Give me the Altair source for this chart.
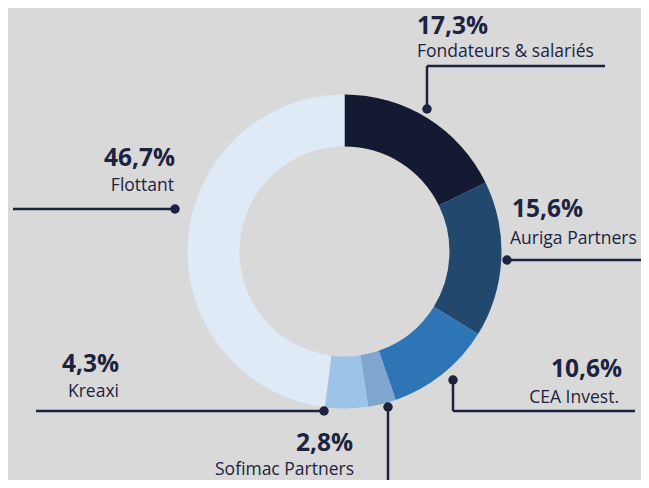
import altair as alt
import pandas as pd

# ---- data ----
holders = ["Fondateurs & salariés", "Auriga Partners", "CEA Invest.", "Sofimac Partners", "Kreaxi", "Flottant"]
shares = [17.3, 15.6, 10.6, 2.8, 4.3, 46.7]
pct_labels = ["17,3%", "15,6%", "10,6%", "2,8%", "4,3%", "46,7%"]
colors = ["#151a33", "#22486e", "#2e75b5", "#7fa6d0", "#9dc3e6", "#deeaf6"]

# ---- layout (page pixel coordinates) ----
dot_x = [427, 507, 453, 388, 324, 175]
dot_y = [109, 260, 380, 407, 411, 209]
pct_x = [417, 512, 622, 353, 119, 175]
pct_y = [34, 217, 377, 451, 372, 166]
name_x = [417, 510, 619, 354, 119, 174]
name_y = [57, 244, 403, 475, 397, 191]
align = ["left", "left", "right", "right", "right", "right"]
# leader segments: (x, y, x2, y2)
segments = [
    (427, 109, 427, 66), (427, 66, 605, 66),
    (507, 260, 649, 260),
    (453, 380, 453, 411), (453, 411, 635, 411),
    (388, 407, 388, 488),
    (324, 411, 36, 411),
    (175, 209, 13, 209),
]

INK = "#1c2340"
FONT = "Open Sans"
W, H = 633, 472
CX, CY = 344.5 - 8, 251.5 - 8

df = pd.DataFrame({"holder": holders, "share": shares, "order": list(range(len(holders))),
                   "pct": pct_labels, "dx": dot_x, "dy": dot_y, "px": pct_x, "py": pct_y,
                   "nx": name_x, "ny": name_y, "align": align})
seg = pd.DataFrame(segments, columns=["x", "y", "x2", "y2"])

xs = alt.Scale(domain=[8, 8 + W], range=[0, W])
ys = alt.Scale(domain=[8, 8 + H], range=[0, H])

donut = alt.Chart(df).mark_arc(outerRadius=157, innerRadius=105, stroke=None).encode(
    theta=alt.Theta("share:Q", stack=True),
    order=alt.Order("order:Q"),
    color=alt.Color("holder:N", scale=alt.Scale(domain=holders, range=colors), legend=None),
    x=alt.value(CX), y=alt.value(CY),
)

lines = alt.Chart(seg).mark_rule(color=INK, strokeWidth=2.5).encode(
    x=alt.X("x:Q", scale=xs, axis=None), y=alt.Y("y:Q", scale=ys, axis=None),
    x2="x2:Q", y2="y2:Q",
)

dots = alt.Chart(df).mark_point(filled=True, color=INK, opacity=1, size=90, shape="circle").encode(
    x=alt.X("dx:Q", scale=xs, axis=None), y=alt.Y("dy:Q", scale=ys, axis=None),
)

def text_layer(side, xcol, ycol, field, size, weight):
    sub = df[df["align"] == side]
    return alt.Chart(sub).mark_text(align=side, baseline="alphabetic", font=FONT, fontSize=size,
                                    fontWeight=weight, color=INK).encode(
        x=alt.X(f"{xcol}:Q", scale=xs, axis=None), y=alt.Y(f"{ycol}:Q", scale=ys, axis=None),
        text=f"{field}:N",
    )

texts = []
for side in ["left", "right"]:
    texts.append(text_layer(side, "px", "py", "pct", 24.5, "bold"))
    texts.append(text_layer(side, "nx", "ny", "holder", 17.5, "normal"))

chart = alt.layer(donut, lines, dots, *texts).properties(
    width=W, height=H, autosize=alt.AutoSizeParams(type="none"), padding=0,
    background="#d9d9d9",
).configure_view(stroke=None)

chart.save("out.html", embed_options={"renderer": "svg", "actions": False})
